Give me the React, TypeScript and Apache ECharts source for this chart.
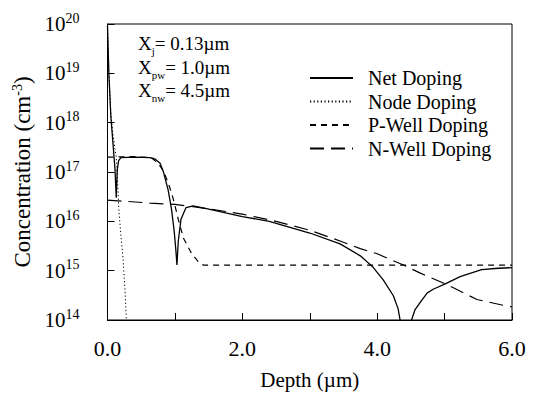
import React, { useEffect, useRef } from "react";
import * as echarts from "echarts";

// ---- data ----
const netDepth = [0, 0.02, 0.05, 0.08, 0.11, 0.13, 0.145, 0.165, 0.2, 0.4, 0.63, 0.7, 0.78, 0.83, 0.9, 0.95, 0.99, 1.015, 1.03, 1.05, 1.09, 1.165, 1.27, 1.52, 2.0, 2.4, 3.0, 3.45, 3.75, 3.94, 4.09, 4.24, 4.31, 4.34, 4.42, 4.51, 4.56, 4.62, 4.74, 4.83, 5.01, 5.23, 5.55, 5.8, 6.0];
const netConc: (number | null)[] = [9e19, 1e19, 1.3e18, 4e17, 1.2e17, 3e16, 1.1e17, 1.7e17, 1.95e17, 2e17, 1.95e17, 1.85e17, 1.5e17, 1e17, 4.3e16, 1.75e16, 6.2e15, 2.5e15, 1.3e15, 4e15, 1.1e16, 1.9e16, 2.05e16, 1.75e16, 1.25e16, 1.0e16, 5.8e15, 3.5e15, 2e15, 1.17e15, 6.5e14, 3.1e14, 1.7e14, 1e14, null, 1e14, 1.6e14, 2.1e14, 3.5e14, 4.2e14, 5.4e14, 7.6e14, 1.05e15, 1.12e15, 1.15e15];

const nodeDepth = [0, 0.02, 0.05, 0.08, 0.11, 0.13, 0.15, 0.17, 0.2, 0.23, 0.26, 0.28];
const nodeConc = [9e19, 1e19, 1.5e18, 6e17, 3e17, 2e17, 6e16, 1.6e16, 5e15, 1.8e15, 4e14, 1e14];

const pwDepth = [0, 0.4, 0.65, 0.75, 0.83, 0.9, 0.95, 1.0, 1.05, 1.125, 1.25, 1.35, 1.42, 2.0, 3.0, 4.0, 5.0, 6.0];
const pwConc = [2e17, 2.05e17, 1.95e17, 1.5e17, 1.05e17, 6e16, 3.8e16, 2.1e16, 1.1e16, 4.6e15, 2.2e15, 1.5e15, 1.3e15, 1.3e15, 1.3e15, 1.3e15, 1.3e15, 1.3e15];

const nwDepth = [0, 0.63, 1.0, 1.5, 2.0, 2.5, 3.0, 3.45, 3.75, 4.0, 4.39, 4.64, 5.01, 5.13, 5.48, 5.9, 6.0];
const nwConc = [2.7e16, 2.35e16, 2.2e16, 1.8e16, 1.4e16, 1.0e16, 6.6e15, 4e15, 2.8e15, 2.2e15, 1.3e15, 8.9e14, 5.4e14, 4.5e14, 2.6e14, 1.95e14, 1.85e14];

const seriesNames = ["Net Doping", "Node Doping", "P-Well Doping", "N-Well Doping"];
const annotations = [
  { sub: "j", value: "= 0.13µm" },
  { sub: "pw", value: "= 1.0µm" },
  { sub: "nw", value: "= 4.5µm" },
];
const yAxisTitle = "Concentration (cm{s|-3})";
const xAxisTitle = "Depth (µm)";

const SERIF = "Liberation Serif";

function pairs(xs: number[], ys: (number | null)[]) {
  return xs.map((x, i) => [x, ys[i] === null ? "-" : ys[i]]);
}

export default function App() {
  const ref = useRef<HTMLDivElement>(null);
  useEffect(() => {
    if (!ref.current) return;
    const chart = echarts.init(ref.current, undefined, { renderer: "svg" });
    const baseLine = { color: "#000", width: 1.2 };
    chart.setOption({
      animation: false,
      backgroundColor: "#fff",
      grid: {
        left: 107.5,
        right: 27,
        top: 24,
        bottom: 63,
        show: true,
        borderColor: "#000",
        borderWidth: 1,
        backgroundColor: "transparent",
      },
      legend: {
        orient: "vertical",
        left: 304,
        top: 63,
        itemWidth: 43,
        itemHeight: 14,
        itemGap: 3.5,
        data: seriesNames,
        itemStyle: { opacity: 0 },
        textStyle: {
          color: "#000",
          fontFamily: SERIF,
          fontSize: 20,
          lineHeight: 20,
          padding: [0, 0, 0, 10],
        },
      },
      xAxis: {
        type: "value",
        min: 0,
        max: 6,
        interval: 1,
        axisLine: { show: true, lineStyle: { color: "#000", width: 1 } },
        axisTick: { show: true, inside: true, length: 7, lineStyle: { color: "#000" } },
        splitLine: { show: false },
        axisLabel: {
          color: "#000",
          fontFamily: SERIF,
          fontSize: 22,
          margin: 17,
          formatter: (v: number) => (Math.round(v) % 2 === 0 ? v.toFixed(1) : ""),
        },
        name: xAxisTitle,
        nameLocation: "middle",
        nameGap: 49,
        nameTextStyle: { color: "#000", fontFamily: SERIF, fontSize: 21 },
      },
      yAxis: {
        type: "log",
        logBase: 10,
        min: 1e14,
        max: 1e20,
        interval: 1,
        axisLine: { show: true, lineStyle: { color: "#000", width: 1 } },
        axisTick: { show: true, inside: true, length: 7, lineStyle: { color: "#000" } },
        minorTick: { show: false },
        splitLine: { show: false },
        axisLabel: {
          color: "#000",
          fontFamily: SERIF,
          align: "left",
          margin: 63,
          formatter: (v: number) => "{b|10}{s|" + Math.round(Math.log10(v)) + "}",
          rich: {
            b: { fontSize: 21, fontFamily: SERIF, color: "#000", lineHeight: 26 },
            s: { fontSize: 14, fontFamily: SERIF, color: "#000", verticalAlign: "top", lineHeight: 14 },
          },
        },
        name: yAxisTitle,
        nameLocation: "middle",
        nameRotate: 90,
        nameGap: 67,
        nameTextStyle: {
          color: "#000",
          fontFamily: SERIF,
          fontSize: 23,
          rich: {
            s: { fontSize: 14, fontFamily: SERIF, color: "#000", verticalAlign: "top", lineHeight: 14 },
          },
        },
      },
      graphic: annotations.map((a, i) => ({
        type: "text",
        left: 138,
        top: 34 + i * 23.5,
        style: {
          text: "{x|X}{s|" + a.sub + "}{x|" + a.value + "}",
          rich: {
            x: { fontSize: 19, fontFamily: SERIF, fill: "#000", lineHeight: 22 },
            s: { fontSize: 11, fontFamily: SERIF, fill: "#000", verticalAlign: "bottom", lineHeight: 11, padding: [0, 0, -2, 0] },
          },
        },
      })),
      series: [
        {
          name: seriesNames[0],
          type: "line",
          data: pairs(netDepth, netConc),
          symbol: "none",
          connectNulls: false,
          lineStyle: { ...baseLine, width: 1.3, type: "solid" },
          itemStyle: { color: "#000" },
        },
        {
          name: seriesNames[1],
          type: "line",
          data: pairs(nodeDepth, nodeConc),
          symbol: "none",
          lineStyle: { ...baseLine, width: 1, type: [1.2, 2.4] },
          itemStyle: { color: "#000" },
        },
        {
          name: seriesNames[2],
          type: "line",
          data: pairs(pwDepth, pwConc),
          symbol: "none",
          lineStyle: { ...baseLine, type: [6, 5] },
          itemStyle: { color: "#000" },
        },
        {
          name: seriesNames[3],
          type: "line",
          data: pairs(nwDepth, nwConc),
          symbol: "none",
          lineStyle: { ...baseLine, type: [14, 7] },
          itemStyle: { color: "#000" },
        },
      ],
    });
    return () => chart.dispose();
  }, []);
  return <div ref={ref} style={{ width: 539, height: 395, position: "absolute", left: 0, top: 0 }} />;
}
